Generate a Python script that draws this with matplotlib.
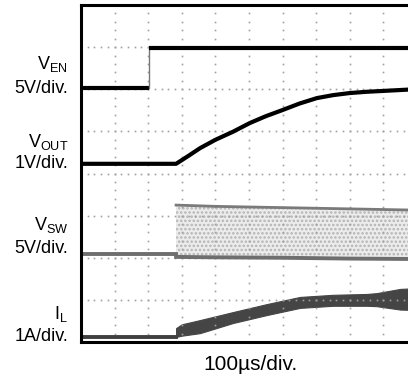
import numpy as np
import matplotlib
matplotlib.use("Agg")
import matplotlib.pyplot as plt

plt.rcParams["font.family"] = "Liberation Sans"
plt.rcParams["mathtext.fontset"] = "custom"
plt.rcParams["mathtext.rm"] = "Liberation Sans"
plt.rcParams["hatch.linewidth"] = 1.2

# x in scope divisions (100us/div), y in screen divisions (0 = bottom)
ven_t = [0, 2.02, 2.02, 10]
ven_v = [6.03, 6.03, 6.97, 6.97]

vout_t = [0, 2.83, 3.2, 3.54, 4.0, 4.52, 5.03, 5.5, 6.01, 6.5, 7.02, 7.5, 8.0, 8.5, 8.99, 9.7, 10]
vout_v = [4.23, 4.23, 4.42, 4.6, 4.8, 4.99, 5.2, 5.36, 5.51, 5.66, 5.79, 5.86, 5.91, 5.94, 5.96, 5.99, 6.0]

vsw_low_t = [0, 2.83]
vsw_low_v = [2.09, 2.09]
vsw_t = [2.83, 4, 6, 8, 10]
vsw_top = [3.25, 3.22, 3.19, 3.16, 3.13]
vsw_bot = [2.02, 2.01, 2.0, 1.98, 1.97]

il_low_t = [0, 2.83]
il_low_v = [0.12, 0.12]
il_t = [2.83, 3.0, 3.54, 4.52, 5.53, 6.52, 7.5, 8.5, 8.8, 9.5, 10]
il_top = [0.33, 0.42, 0.52, 0.71, 0.9, 1.07, 1.12, 1.14, 1.16, 1.26, 1.28]
il_bot = [0.12, 0.15, 0.21, 0.45, 0.64, 0.81, 0.86, 0.86, 0.85, 0.77, 0.76]

W, H = 408, 377


def px(x, y):
    return x / W, 1 - y / H


fig = plt.figure(figsize=(W / 100, H / 100), dpi=100)
ax = fig.add_axes([81 / W, 35 / H, 336 / W, 337 / H])
ax.set_xlim(0, 10)
ax.set_ylim(0, 8)
ax.set_xticks([])
ax.set_yticks([])
for s in ["left", "top", "bottom"]:
    ax.spines[s].set_linewidth(2.2)
ax.spines["right"].set_visible(False)

# dotted graticule
fine_x = np.arange(0, 10.01, 0.2)
fine_y = np.arange(0, 8.01, 0.2)
for gy in range(1, 8):
    ax.plot(fine_x, np.full_like(fine_x, gy), ls="none", marker="s", ms=1.2, color="#a0a0a0", mew=0)
for gx in range(1, 10):
    ax.plot(np.full_like(fine_y, gx), fine_y, ls="none", marker="s", ms=1.2, color="#a0a0a0", mew=0)

# V_EN
ax.plot(ven_t[:2], ven_v[:2], color="black", lw=3, solid_capstyle="butt")
ax.plot(ven_t[1:3], ven_v[1:3], color="#777777", lw=1)
ax.plot(ven_t[2:], ven_v[2:], color="black", lw=3, solid_capstyle="butt")

# V_OUT
ax.plot(vout_t, vout_v, color="black", lw=3)

# V_SW
ax.plot(vsw_low_t, vsw_low_v, color="#6e6e6e", lw=2.8)
ax.fill_between(vsw_t, vsw_bot, vsw_top, facecolor="#ececec", edgecolor="#b4b4b4", hatch="....", lw=0)
ax.plot(vsw_t, vsw_top, color="#7a7a7a", lw=2)
ax.plot(vsw_t, vsw_bot, color="#6e6e6e", lw=2.8)

# I_L
ax.plot(il_low_t, il_low_v, color="#404040", lw=2.8)
ax.fill_between(il_t, il_bot, il_top, color="#454545", lw=0.8)

fs = 13
fig.text(*px(68, 69), r"V$_\mathregular{EN}$", ha="right", va="baseline", fontsize=fs)
fig.text(*px(68, 93), "5V/div.", ha="right", va="baseline", fontsize=fs)
fig.text(*px(68, 147), r"V$_\mathregular{OUT}$", ha="right", va="baseline", fontsize=fs)
fig.text(*px(68, 168), "1V/div.", ha="right", va="baseline", fontsize=fs)
fig.text(*px(68, 230), r"V$_\mathregular{SW}$", ha="right", va="baseline", fontsize=fs)
fig.text(*px(68, 253), "5V/div.", ha="right", va="baseline", fontsize=fs)
fig.text(*px(68, 319), r"I$_\mathregular{L}$", ha="right", va="baseline", fontsize=fs)
fig.text(*px(68, 341), "1A/div.", ha="right", va="baseline", fontsize=fs)
fig.text(*px(250, 370), "100\u00b5s/div.", ha="center", va="baseline", fontsize=15)

fig.savefig("out.png", dpi=100)
